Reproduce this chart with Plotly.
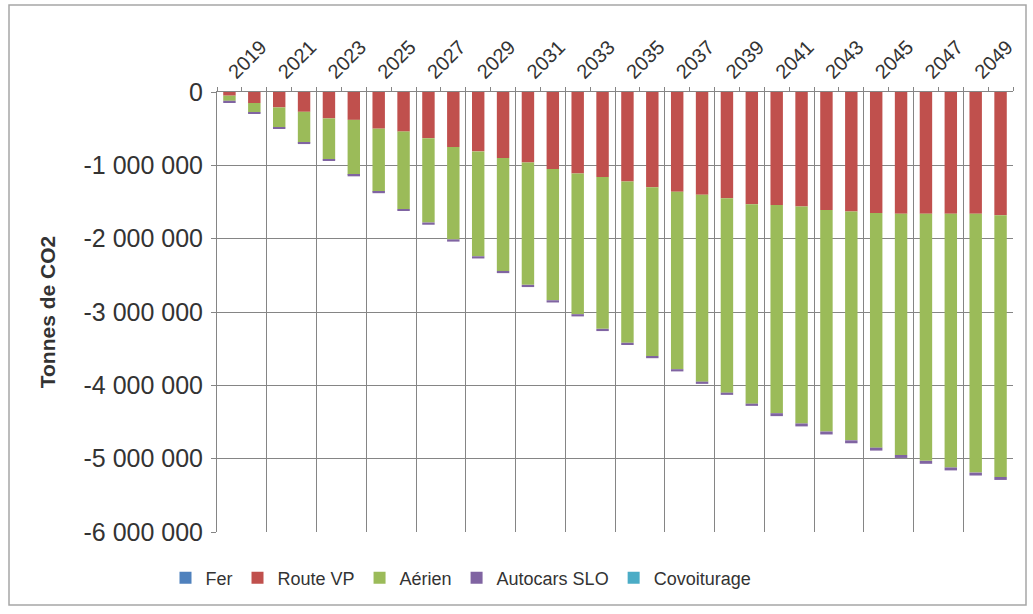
import plotly.graph_objects as go

years = list(range(2019, 2051))
fer = [0] * 32
route_vp = [-50000, -150000, -210000, -270000, -360000, -380000, -500000, -540000,
            -630000, -750000, -810000, -900000, -960000, -1050000, -1110000, -1160000,
            -1220000, -1300000, -1360000, -1400000, -1450000, -1530000, -1540000, -1560000,
            -1610000, -1630000, -1650000, -1660000, -1660000, -1660000, -1660000, -1680000]
aerien = [-70000, -130000, -270000, -420000, -560000, -750000, -860000, -1060000,
          -1150000, -1260000, -1430000, -1540000, -1670000, -1790000, -1920000, -2070000,
          -2200000, -2300000, -2420000, -2550000, -2650000, -2720000, -2840000, -2960000,
          -3020000, -3120000, -3200000, -3290000, -3370000, -3460000, -3530000, -3570000]
autocars = [-30000, -20000, -20000, -20000, -20000, -20000, -20000, -20000,
            -30000, -30000, -30000, -30000, -30000, -30000, -30000, -30000,
            -30000, -30000, -30000, -30000, -30000, -30000, -40000, -40000,
            -40000, -40000, -40000, -40000, -40000, -40000, -40000, -40000]
covoiturage = [0] * 32

series = [("Fer", fer, "#4f81bd"), ("Route VP", route_vp, "#c0504d"),
          ("Aérien", aerien, "#9bbb59"), ("Autocars SLO", autocars, "#8064a2"),
          ("Covoiturage", covoiturage, "#4bacc6")]

label_years = years[::2]
y_ticks = [0, -1000000, -2000000, -3000000, -4000000, -5000000, -6000000]
y_text = ["0", "-1 000 000", "-2 000 000", "-3 000 000", "-4 000 000", "-5 000 000", "-6 000 000"]

FONT = "Liberation Sans, Arial, sans-serif"
GRID = "#858585"
TXT = "#333333"

fig = go.Figure()
for name, vals, col in series:
    fig.add_trace(go.Bar(x=years, y=vals, name=name, marker=dict(color=col, line=dict(width=0))))

fig.update_layout(
    width=1033, height=614,
    barmode="relative", bargap=0.5,
    paper_bgcolor="white", plot_bgcolor="white",
    margin=dict(l=217, r=20, t=92, b=82, autoexpand=False),
    font=dict(family=FONT, size=14, color=TXT),
    xaxis=dict(
        side="top", range=[years[0] - 0.5, years[-1] + 0.5],
        tickmode="array", tickvals=label_years, ticktext=[str(y) for y in label_years],
        tickangle=-45, ticks="", showgrid=False, zeroline=False,
        showline=True, linecolor=GRID, linewidth=1,
        tickfont=dict(size=20, color=TXT),
        minor=dict(tick0=years[0] - 0.5, dtick=1, ticks="outside", ticklen=4,
                   tickcolor=GRID, showgrid=False),
    ),
    xaxis2=dict(
        overlaying="x", matches="x", side="bottom",
        tickmode="linear", tick0=years[0] - 0.5, dtick=2,
        showgrid=True, gridcolor=GRID, gridwidth=1,
        showticklabels=False, ticks="", showline=False, zeroline=False,
    ),
    yaxis=dict(
        range=[-6000000, 0], tickmode="array", tickvals=y_ticks, ticktext=y_text,
        showgrid=True, gridcolor=GRID, gridwidth=1, zeroline=False,
        showline=True, linecolor=GRID, linewidth=1, mirror=False,
        ticks="outside", ticklen=5, tickcolor=GRID, ticklabelstandoff=3,
        tickfont=dict(size=25, color=TXT),
        title=dict(text="<b>Tonnes de CO2</b>", font=dict(size=21, color=TXT), standoff=22),
    ),
    legend=dict(
        orientation="h", x=(461 - 217) / 796, xanchor="center",
        y=(532 - 578) / 440, yanchor="middle",
        font=dict(size=18, color=TXT), itemwidth=30, traceorder="normal",
        bgcolor="rgba(0,0,0,0)",
    ),
    shapes=[dict(type="rect", xref="paper", yref="paper",
                 x0=(9 - 217) / 796, x1=(1026 - 217) / 796,
                 y0=(532 - 605) / 440, y1=(532 - 5) / 440,
                 line=dict(color="#a6a6a6", width=1.5), fillcolor="rgba(0,0,0,0)", layer="below")],
)

# empty trace so the gridline axis renders
fig.add_trace(go.Scatter(x=[years[0]], y=[None], xaxis="x2", showlegend=False, hoverinfo="skip"))

fig.write_html("out.html", config={"displayModeBar": False},
               post_script="document.body.style.margin='0px';")
